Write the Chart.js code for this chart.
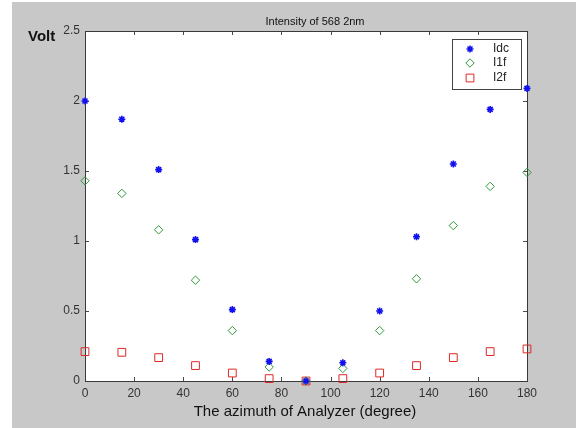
<!DOCTYPE html>
<html>
<head>
<meta charset="utf-8">
<script src="https://cdn.jsdelivr.net/npm/chart.js@4/dist/chart.umd.min.js"></script>
<style>
    html, body { margin: 0; padding: 0; background: #fff; }
    #frame { position: absolute; left: 12px; top: 2px; width: 564px; height: 426px; background: #c8c8c8; }
    #wrap { position: absolute; left: 0; top: 0; width: 576px; height: 428px; }
</style>
</head>
<body>
<div id="frame"></div>
<div id="wrap"><canvas id="chart" width="576" height="428"></canvas></div>
<script>
// azimuth of analyzer in degrees
const angles = [0, 15, 30, 45, 60, 75, 90, 105, 120, 135, 150, 165, 180];
const idcValues = [2.00, 1.87, 1.51, 1.01, 0.51, 0.14, 0.00, 0.13, 0.50, 1.03, 1.55, 1.94, 2.09];
const i1fValues = [1.43, 1.34, 1.08, 0.72, 0.36, 0.10, 0.00, 0.09, 0.36, 0.73, 1.11, 1.39, 1.49];
const i2fValues = [0.21, 0.205, 0.167, 0.11, 0.057, 0.017, 0.00, 0.017, 0.057, 0.11, 0.167, 0.21, 0.229];
const seriesNames = ['Idc', 'I1f', 'I2f'];
const chartTitle = 'Intensity of 568 2nm';
const yAxisTitle = 'Volt';
const xAxisTitle = 'The azimuth of Analyzer (degree)';

const FONT = '"Liberation Sans", Arial, sans-serif';

const toPoints = function (values) {
    return angles.map((a, i) => ({ x: a, y: values[i] }));
};

// white plot background, frame, inward ticks on all four sides
const matlabAxes = {
    id: 'matlabAxes',
    beforeDraw: function (chart) {
        const { ctx, chartArea: a } = chart;
        ctx.save();
        ctx.fillStyle = '#ffffff';
        ctx.fillRect(a.left, a.top, a.right - a.left, a.bottom - a.top);
        ctx.restore();
    },
    beforeDatasetsDraw: function (chart) {
        const { ctx, chartArea: a, scales } = chart;
        ctx.save();
        ctx.strokeStyle = '#4a4a4a';
        ctx.lineWidth = 1;
        const len = 4;
        ctx.beginPath();
        scales.x.ticks.forEach(t => {
            const px = Math.round(scales.x.getPixelForValue(t.value)) + 0.5;
            ctx.moveTo(px, a.bottom); ctx.lineTo(px, a.bottom - len);
            ctx.moveTo(px, a.top); ctx.lineTo(px, a.top + len);
        });
        scales.y.ticks.forEach(t => {
            const py = Math.round(scales.y.getPixelForValue(t.value)) + 0.5;
            ctx.moveTo(a.left, py); ctx.lineTo(a.left + len, py);
            ctx.moveTo(a.right, py); ctx.lineTo(a.right - len, py);
        });
        ctx.stroke();
        ctx.strokeStyle = '#3a3a3a';
        ctx.strokeRect(Math.round(a.left) + 0.5, Math.round(a.top) + 0.5, Math.round(a.right - a.left), Math.round(a.bottom - a.top));
        ctx.restore();
    },
    afterDraw: function (chart) {
        const { ctx } = chart;
        ctx.save();
        ctx.fillStyle = '#111';
        ctx.textAlign = 'center';
        ctx.textBaseline = 'middle';
        ctx.font = '11px ' + FONT;
        ctx.fillText(chartTitle, 315, 22);
        ctx.font = '15px ' + FONT;
        ctx.fillText(xAxisTitle, 305, 412);
        ctx.font = 'bold 15px ' + FONT;
        ctx.textAlign = 'left';
        ctx.fillText(yAxisTitle, 28, 37);

        // legend box
        const bx = 452, by = 39, bw = 69, bh = 50;
        ctx.fillStyle = '#ffffff';
        ctx.fillRect(bx, by, bw, bh);
        ctx.strokeStyle = '#444';
        ctx.lineWidth = 1;
        ctx.strokeRect(bx + 0.5, by + 0.5, bw, bh);
        ctx.font = '12px ' + FONT;
        const rows = [49, 63, 78];
        chart.data.datasets.forEach((ds, i) => {
            ctx.strokeStyle = ds.borderColor;
            ctx.fillStyle = ds.backgroundColor;
            ctx.lineWidth = ds.borderWidth;
            Chart.helpers.drawPoint(ctx, {
                pointStyle: ds.pointStyle,
                radius: ds.pointRadius,
                borderWidth: ds.borderWidth
            }, 470, rows[i]);
            ctx.fillStyle = '#222';
            ctx.fillText(ds.label, 493, rows[i]);
        });
        ctx.restore();
    }
};

new Chart(document.getElementById('chart'), {
    type: 'scatter',
    data: {
        datasets: [
            {
                label: seriesNames[0],
                data: toPoints(idcValues),
                pointStyle: 'star',
                pointRadius: 3.5,
                borderColor: '#1010f0',
                backgroundColor: '#1010f0',
                borderWidth: 1.6,
                clip: false
            },
            {
                label: seriesNames[1],
                data: toPoints(i1fValues),
                pointStyle: 'rectRot',
                pointRadius: 4.2,
                borderColor: '#2e9a3a',
                backgroundColor: 'rgba(0,0,0,0)',
                borderWidth: 1,
                clip: false
            },
            {
                label: seriesNames[2],
                data: toPoints(i2fValues),
                pointStyle: 'rect',
                pointRadius: 5.5,
                borderColor: '#e02828',
                backgroundColor: 'rgba(0,0,0,0)',
                borderWidth: 1,
                clip: false
            }
        ]
    },
    options: {
        responsive: false,
        animation: false,
        events: [],
        layout: {
            padding: { top: 31, right: 49, left: 0, bottom: 0 }
        },
        plugins: {
            legend: { display: false },
            title: { display: false },
            tooltip: { enabled: false }
        },
        scales: {
            x: {
                type: 'linear',
                min: 0,
                max: 180,
                grid: { display: false, drawTicks: false },
                border: { display: false },
                ticks: {
                    stepSize: 20,
                    padding: 5,
                    color: '#333',
                    font: { family: FONT, size: 12 }
                },
                afterFit: function (scale) { scale.height = 47; }
            },
            y: {
                min: 0,
                max: 2.5,
                grid: { display: false, drawTicks: false },
                border: { display: false },
                ticks: {
                    stepSize: 0.5,
                    padding: 5,
                    color: '#333',
                    font: { family: FONT, size: 12 },
                    callback: function (value) { return String(value); }
                },
                afterFit: function (scale) { scale.width = 85; }
            }
        }
    },
    plugins: [matlabAxes]
});
</script>
</body>
</html>
